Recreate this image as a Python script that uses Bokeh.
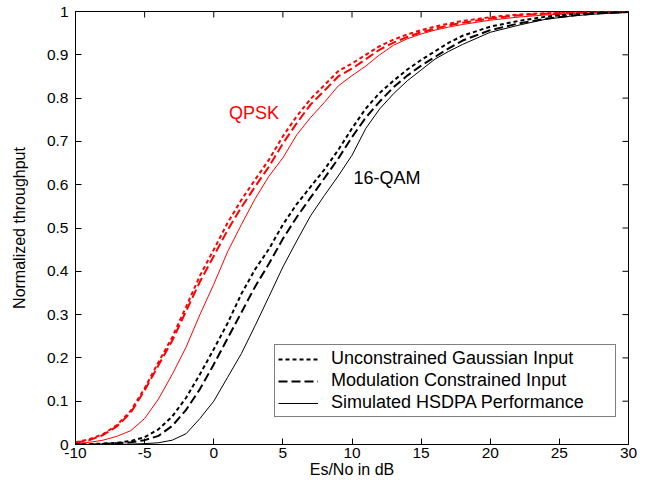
import math
from bokeh.plotting import figure
from bokeh.models import (FixedTicker, CustomJSTickFormatter, Legend,
                          LegendItem, Label, Range1d)
from bokeh.embed import file_html
from bokeh.resources import INLINE

# ---------------- data ----------------
snr_db = [-10, -9, -8, -7, -6, -5, -4, -3, -2, -1, 0, 1, 2, 3, 4, 5, 6, 7, 8, 9, 10,
          11, 12, 13, 14, 15, 16, 17, 18, 20, 22, 24, 26, 28, 30]

qpsk_gauss = [0.005, 0.012, 0.024, 0.045, 0.078, 0.13, 0.19, 0.248, 0.318, 0.39, 0.45,
              0.512, 0.565, 0.612, 0.658, 0.712, 0.758, 0.798, 0.83, 0.862, 0.88,
              0.9, 0.92, 0.935, 0.947, 0.957, 0.965, 0.972, 0.978, 0.987, 0.993,
              0.996, 0.998, 0.999, 1.0]
qpsk_mod = [0.004, 0.01, 0.022, 0.042, 0.074, 0.125, 0.183, 0.24, 0.308, 0.376, 0.435,
            0.495, 0.548, 0.596, 0.642, 0.695, 0.742, 0.785, 0.817, 0.85, 0.868,
            0.89, 0.912, 0.928, 0.941, 0.952, 0.96, 0.968, 0.974, 0.984, 0.991,
            0.995, 0.997, 0.999, 1.0]
qpsk_sim = [0.002, 0.005, 0.01, 0.019, 0.032, 0.06, 0.105, 0.162, 0.225, 0.3, 0.37,
            0.445, 0.508, 0.568, 0.62, 0.662, 0.715, 0.755, 0.79, 0.828, 0.852,
            0.874, 0.9, 0.922, 0.937, 0.948, 0.957, 0.964, 0.97, 0.98, 0.987,
            0.992, 0.995, 0.998, 0.999]
qam_gauss = [0.0, 0.001, 0.002, 0.004, 0.008, 0.017, 0.035, 0.065, 0.108, 0.162, 0.22,
             0.28, 0.348, 0.405, 0.452, 0.508, 0.555, 0.595, 0.635, 0.68, 0.73,
             0.776, 0.812, 0.84, 0.866, 0.888, 0.908, 0.928, 0.944, 0.965, 0.978,
             0.988, 0.994, 0.997, 0.999]
qam_mod = [0.0, 0.0, 0.001, 0.003, 0.005, 0.01, 0.02, 0.043, 0.08, 0.128, 0.185,
           0.245, 0.305, 0.365, 0.418, 0.475, 0.525, 0.57, 0.615, 0.66, 0.71,
           0.755, 0.792, 0.825, 0.852, 0.875, 0.895, 0.915, 0.933, 0.957, 0.972,
           0.983, 0.991, 0.996, 0.999]
qam_sim = [0.0, 0.0, 0.0, 0.0, 0.001, 0.002, 0.004, 0.01, 0.025, 0.06, 0.1,
           0.155, 0.21, 0.275, 0.342, 0.41, 0.47, 0.528, 0.575, 0.62, 0.668,
           0.73, 0.775, 0.81, 0.84, 0.865, 0.89, 0.908, 0.924, 0.952, 0.968,
           0.982, 0.99, 0.995, 0.998]

x_ticks = [-10, -5, 0, 5, 10, 15, 20, 25, 30]
y_ticks = [0, 0.1, 0.2, 0.3, 0.4, 0.5, 0.6, 0.7, 0.8, 0.9, 1]
legend_labels = ["Unconstrained Gaussian Input", "Modulation Constrained Input",
                 "Simulated HSDPA Performance"]
qpsk_text, qpsk_pos = "QPSK", (1.1, 0.742)
qam_text, qam_pos = "16-QAM", (10.1, 0.592)

FONT = "Liberation Sans"
X_MIN, X_MAX, Y_MIN, Y_MAX = -10, 30, 0, 1

p = figure(width=638, height=481, x_range=Range1d(X_MIN, X_MAX), y_range=Range1d(Y_MIN, Y_MAX),
           output_backend="svg", toolbar_location=None,
           min_border_left=75, min_border_right=10, min_border_top=11, min_border_bottom=37)
p.xgrid.visible = False
p.ygrid.visible = False
p.outline_line_color = "black"
p.outline_line_width = 1
p.background_fill_color = "white"
p.border_fill_color = "white"

fmt = CustomJSTickFormatter(code="return (Math.round(tick*10)/10).toString();")

for ax, ticks in ((p.xaxis[0], x_ticks), (p.yaxis[0], y_ticks)):
    ax.ticker = FixedTicker(ticks=ticks)
    ax.formatter = fmt
    ax.major_tick_in = 6
    ax.major_tick_out = 0
    ax.minor_tick_line_color = None
    ax.axis_line_color = "black"
    ax.major_tick_line_color = "black"
    ax.major_label_text_font = FONT
    ax.major_label_text_color = "black"
    ax.major_label_text_font_size = "15.5px"
    ax.axis_label_text_font = FONT
    ax.axis_label_text_font_style = "normal"
    ax.axis_label_text_color = "black"
    ax.axis_label_text_font_size = "16px"

p.xaxis[0].axis_label = "Es/No in dB"
p.xaxis[0].major_label_standoff = 3
p.xaxis[0].axis_label_standoff = 0
p.yaxis[0].axis_label = "Normalized throughput"
p.yaxis[0].major_label_standoff = 7
p.yaxis[0].axis_label_standoff = 16

# mirrored inward ticks on the top and right edges of the box
p.scatter(x_ticks, [Y_MAX] * len(x_ticks), marker="dash", angle=math.pi / 2,
          size=12, line_color="black", line_width=1)
p.scatter([X_MAX] * len(y_ticks), y_ticks, marker="dash",
          size=12, line_color="black", line_width=1)

red = "#ff0000"
p.line(snr_db, qpsk_gauss, line_color=red, line_width=2, line_dash="4 3")
p.line(snr_db, qpsk_mod, line_color=red, line_width=2, line_dash="9 4")
p.line(snr_db, qpsk_sim, line_color=red, line_width=1)
r1 = p.line(snr_db, qam_gauss, line_color="black", line_width=2, line_dash="4 3")
r2 = p.line(snr_db, qam_mod, line_color="black", line_width=2, line_dash="9 4")
r3 = p.line(snr_db, qam_sim, line_color="black", line_width=1)

legend = Legend(items=[LegendItem(label=legend_labels[0], renderers=[r1]),
                       LegendItem(label=legend_labels[1], renderers=[r2]),
                       LegendItem(label=legend_labels[2], renderers=[r3])],
                location=(199, 27), orientation="vertical",
                label_text_font=FONT, label_text_font_size="18px",
                label_text_color="black",
                glyph_width=40, glyph_height=20, label_height=20, label_width=281,
                label_standoff=13, spacing=1, padding=3, margin=0,
                border_line_color="black", border_line_width=1,
                background_fill_color="white", background_fill_alpha=1.0)
p.add_layout(legend, "center")

p.add_layout(Label(x=qpsk_pos[0], y=qpsk_pos[1], text=qpsk_text, text_color=red,
                   text_font=FONT, text_font_size="18px"))
p.add_layout(Label(x=qam_pos[0], y=qam_pos[1], text=qam_text, text_color="black",
                   text_font=FONT, text_font_size="18px"))

open("out.html", "w").write(file_html(p, INLINE))
